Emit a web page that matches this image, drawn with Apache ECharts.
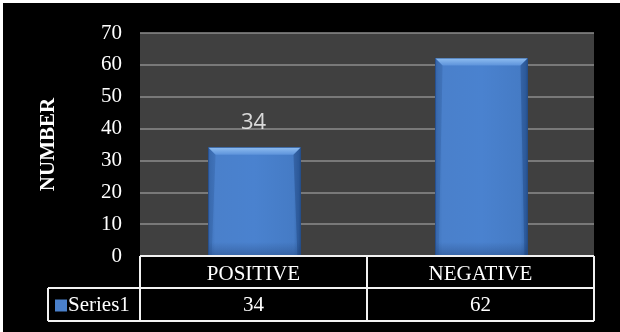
<!DOCTYPE html>
<html>
<head>
<meta charset="utf-8">
<script src="https://cdn.jsdelivr.net/npm/echarts@6/dist/echarts.min.js"></script>
<style>
  html, body { margin: 0; padding: 0; background: #ffffff; }
  #chart { position: absolute; left: 3px; top: 3px; width: 617px; height: 329px; background: #000000; }
</style>
</head>
<body>
<div id="chart"></div>
<script>
// Chart data
const categories = ['POSITIVE', 'NEGATIVE'];
const seriesName = 'Series1';
const values = [34, 62];
const labeledIndex = [0];          // bars that carry a value label
const yTicks = [0, 10, 20, 30, 40, 50, 60, 70];

const SERIF = '"Liberation Serif", "Times New Roman", serif';
const FS = 21;
const chart = echarts.init(document.getElementById('chart'), null, { renderer: 'canvas' });

// Grid box (pixels inside the chart container)
const G = { left: 137, top: 30, right: 26, bottom: 76 };

// Beveled bar drawn from the value scale
function renderBar(params, api) {
  const idx = api.value(0);
  const val = api.value(1);
  const top = api.coord([idx, val]);
  const base = api.coord([idx, 0]);
  const bw = api.size([1, 0])[0] * 0.405;
  const x0 = top[0] - bw / 2 + 1, x1 = top[0] + bw / 2 + 1;
  const y0 = top[1], y1 = base[1];
  const bv = 7, sv = 3;
  const body = new echarts.graphic.LinearGradient(0, 0, 1, 0, [
    { offset: 0, color: '#3d70b6' }, { offset: 0.08, color: '#4a80cb' },
    { offset: 0.5, color: '#4a82cf' }, { offset: 0.92, color: '#457bc5' }, { offset: 1, color: '#3264a8' }
  ]);
  const children = [
    { type: 'rect', shape: { x: x0, y: y0, width: x1 - x0, height: y1 - y0 },
      style: { fill: body, stroke: '#2a5490', lineWidth: 1 } },
    // bottom shading
    { type: 'rect', shape: { x: x0, y: y1 - 14, width: x1 - x0, height: 14 },
      style: { fill: new echarts.graphic.LinearGradient(0, 0, 0, 1, [
        { offset: 0, color: 'rgba(30,60,110,0)' }, { offset: 1, color: 'rgba(30,60,110,0.4)' }]) } },
    // top bevel
    { type: 'polygon', shape: { points: [[x0, y0], [x1, y0], [x1 - bv, y0 + bv], [x0 + bv, y0 + bv]] },
      style: { fill: new echarts.graphic.LinearGradient(0, 0, 0, 1, [
        { offset: 0, color: '#8dbcf0' }, { offset: 1, color: '#5d93db' }]) } },
    // left bevel
    { type: 'polygon', shape: { points: [[x0, y0], [x0 + bv, y0 + bv], [x0 + sv, y1], [x0, y1]] },
      style: { fill: 'rgba(40,80,140,0.25)' } },
    // right bevel
    { type: 'polygon', shape: { points: [[x1, y0], [x1 - bv, y0 + bv], [x1 - sv, y1], [x1, y1]] },
      style: { fill: 'rgba(20,50,100,0.3)' } }
  ];
  return { type: 'group', children: children };
}

const barData = values.map((v, i) => [i, v]);

chart.setOption({
  backgroundColor: '#000000',
  animation: false,
  grid: { left: G.left, top: G.top, right: G.right, bottom: G.bottom, show: true,
          backgroundColor: '#404040', borderWidth: 0 },
  legend: {
    left: 47, top: 287, padding: 5, itemWidth: 12, itemHeight: 12, itemGap: 4,
    data: [{ name: seriesName, icon: 'rect', itemStyle: { color: '#4a80cb' } }],
    textStyle: { color: '#ffffff', fontFamily: SERIF, fontSize: FS, padding: [0, 0, 0, -4] }
  },
  xAxis: [
    { type: 'category', data: categories, position: 'bottom',
      axisLine: { show: false }, axisTick: { show: false }, splitLine: { show: false },
      axisLabel: { color: '#ffffff', fontFamily: SERIF, fontSize: FS, margin: 18, verticalAlign: 'middle' } },
    { type: 'category', data: values.map(String), position: 'bottom', offset: 32,
      axisLine: { show: false }, axisTick: { show: false }, splitLine: { show: false },
      axisLabel: { color: '#ffffff', fontFamily: SERIF, fontSize: FS, margin: 17, verticalAlign: 'middle' } }
  ],
  yAxis: {
    type: 'value', min: yTicks[0], max: yTicks[yTicks.length - 1], interval: 10,
    axisLine: { show: false }, axisTick: { show: false },
    splitLine: { show: true, lineStyle: { color: '#8c8c8c', width: 1.5 } },
    axisLabel: { color: '#ffffff', fontFamily: SERIF, fontSize: FS, margin: 18 },
    name: 'NUMBER', nameLocation: 'middle', nameRotate: 90, nameGap: 81,
    nameTextStyle: { color: '#ffffff', fontFamily: SERIF, fontSize: 21, fontWeight: 'bold' }
  },
  series: [{
    name: seriesName, type: 'custom', xAxisIndex: 0, renderItem: renderBar,
    encode: { x: 0, y: 1 }, data: barData, z: 3,
    itemStyle: { color: '#4a80cb' },
    label: { show: false }
  }, {
    // value label above the marked bar
    type: 'scatter', xAxisIndex: 0, symbolSize: 0, silent: true, z: 4,
    data: labeledIndex.map(i => [i, values[i]]),
    label: { show: true, position: 'top', distance: 14, formatter: p => String(p.value[1]),
             color: '#ffffff', fontFamily: '"Open Sans", sans-serif', fontSize: 22 }
  }]
});

// Data table grid lines under the plot
function drawTable() {
  const gx0 = G.left, gx1 = chart.getWidth() - G.right;
  const yBase = chart.getHeight() - G.bottom;
  const r1 = yBase + 32, r2 = yBase + 65;
  const legendLeft = 45;
  const c0 = chart.convertToPixel({ xAxisIndex: 0 }, 0);
  const c1 = chart.convertToPixel({ xAxisIndex: 0 }, 1);
  const mid = (c0 + c1) / 2;
  const ls = { stroke: '#f2f2f2', lineWidth: 2 };
  const L = (x1, y1, x2, y2) => ({ type: 'line', silent: true, z: 10, shape: { x1, y1, x2, y2 }, style: ls });
  chart.setOption({ graphic: [
    L(gx0, yBase, gx1, yBase),
    L(legendLeft, r1, gx1, r1),
    L(legendLeft, r2, gx1, r2),
    L(gx0, yBase, gx0, r2),
    L(mid, yBase, mid, r2),
    L(gx1, yBase, gx1, r2),
    L(legendLeft, r1, legendLeft, r2)
  ] });
}
drawTable();
</script>
</body>
</html>
